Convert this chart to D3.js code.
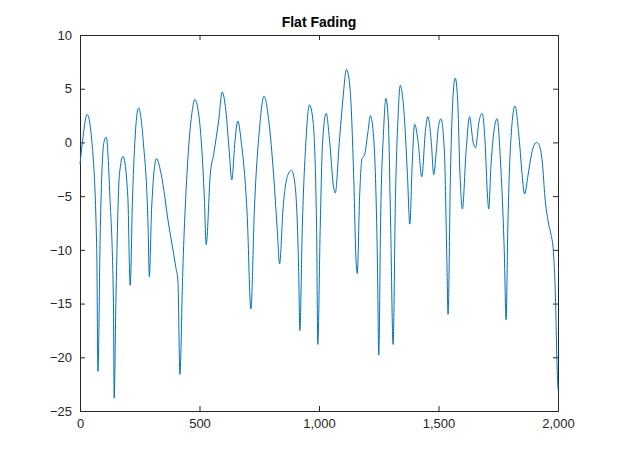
<!DOCTYPE html>
<html><head><meta charset="utf-8">
<script src="https://cdn.jsdelivr.net/npm/d3@7"></script>
<style>body{margin:0;background:#fff}</style></head>
<body><svg id="c" width="617" height="463"></svg>
<script>
const title = "Flat Fading";
const xTicks = [0,500,1000,1500,2000];
const yTicks = [10,5,0,-5,-10,-15,-20,-25];
const sampleIdx = [0,10,30,50,70,75,85,100,110,125,140,143,150,165,180,200,210,220,245,265,285,290,300,320,340,370,400,410,418,430,450,470,480,500,520,528,545,560,580,595,610,625,635,648,660,675,700,715,730,750,770,790,810,825,835,850,870,885,900,915,920,930,945,960,975,990,995,1005,1015,1030,1045,1060,1068,1085,1100,1115,1130,1145,1155,1160,1170,1180,1190,1205,1215,1230,1245,1250,1258,1270,1280,1290,1300,1310,1320,1330,1340,1355,1370,1380,1390,1400,1415,1430,1445,1455,1470,1480,1490,1500,1510,1525,1535,1540,1550,1560,1570,1580,1590,1600,1615,1630,1645,1655,1670,1683,1695,1705,1710,1720,1735,1745,1760,1775,1783,1790,1805,1820,1835,1850,1860,1875,1890,1910,1920,1935,1945,1960,1970,1980,1990,1995,2000];
const gainDb = [-2,0,2.6,0,-10,-21.3,-8,0,0.5,-5,-15,-23.8,-15,-3,-1.3,-5,-13.3,-5,3.2,0,-8,-12.5,-6,-1.5,-3,-7.5,-11.5,-13,-21.6,-12,-2,3,4,2,-5,-9.5,-3,-1,2,4.7,3,-1,-3.5,0,2,0,-7,-15.5,-6,1,4.3,2,-3,-8,-11.3,-6,-3,-2.6,-4,-12,-17.5,-8,0,3.5,2,-8,-18.8,-8,0,2.7,0,-4,-4.7,0,4,6.8,5,-3,-11,-12.2,-5,-1.5,-1.2,1,2.5,0,-12,-19.8,-7,1,4.1,2,-8,-18.8,-5,2,5.3,3,-3,-7.6,-2,1.7,0,-3.2,1,2.4,0,-3,-1,1.5,2.2,-1,-11,-16,-3,4,6,4,-3,-6.2,-1,2.4,0,-0.5,2,2.7,0,-5,-6.2,-2,1.5,2.2,-2,-10,-16.5,-8,1,3.4,1,-3,-4.8,-3,-1,0,-0.2,-2,-5,-7.5,-8.5,-10,-15,-20,-23];

const svg = d3.select("#c");
const L=80,R=558,T=35,B=411;
const x = d3.scaleLinear().domain([0,2000]).range([L,R]);
const y = d3.scaleLinear().domain([-25,10]).range([B,T]);
const font = "'Liberation Sans', Arial, sans-serif";

svg.append("rect").attr("x",L).attr("y",T).attr("width",R-L).attr("height",B-T).attr("fill","#fff");
const ax = svg.append("g").attr("transform",`translate(0,${B})`).call(d3.axisBottom(x).tickValues(xTicks).tickSize(-5).tickPadding(8));
const axT = svg.append("g").attr("transform",`translate(0,${T})`).call(d3.axisTop(x).tickValues(xTicks).tickSize(-5).tickFormat(""));
const ay = svg.append("g").attr("transform",`translate(${L},0)`).call(d3.axisLeft(y).tickValues(yTicks).tickSize(-5).tickPadding(8));
const ayR = svg.append("g").attr("transform",`translate(${R},0)`).call(d3.axisRight(y).tickValues(yTicks).tickSize(-5).tickFormat(""));
[ax,axT,ay,ayR].forEach(g=>{g.selectAll("path,line").attr("stroke","#262626");g.selectAll("text").attr("fill","#262626").style("font-family",font).style("font-size","13px");});

const data = sampleIdx.map((d,i)=>[d,gainDb[i]]);
svg.append("path").datum(data).attr("fill","none").attr("stroke","#0072bd").attr("stroke-width",1)
  .attr("d",d3.line().x(d=>x(d[0])).y(d=>y(d[1])).curve(d3.curveMonotoneX));

svg.append("text").attr("x",(L+R)/2).attr("y",27).attr("text-anchor","middle")
  .style("font-family",font).style("font-size","14px").style("font-weight","bold").text(title);
</script></body></html>
